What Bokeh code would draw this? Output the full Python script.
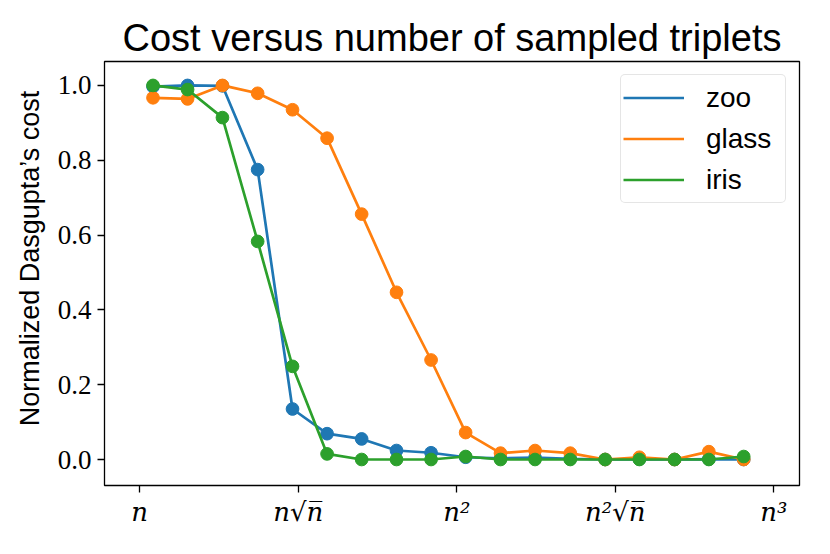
from bokeh.plotting import figure
from bokeh.models import Range1d, FixedTicker, Legend, LegendItem, NumeralTickFormatter
from bokeh.embed import file_html
from bokeh.resources import INLINE

# x positions in units of log_n(#triplets)
x_vals = [1.042, 1.151, 1.261, 1.372, 1.482, 1.591, 1.700, 1.810, 1.919,
          2.028, 2.138, 2.247, 2.358, 2.468, 2.576, 2.687, 2.795, 2.905]

zoo = [0.997, 1.0, 0.999, 0.775, 0.135, 0.069, 0.055, 0.024, 0.018,
       0.006, 0.003, 0.005, 0.002, 0.0, 0.001, 0.0, 0.001, 0.0]
glass = [0.967, 0.964, 1.0, 0.979, 0.935, 0.859, 0.656, 0.447, 0.266,
         0.072, 0.017, 0.024, 0.017, 0.0, 0.006, 0.0, 0.021, 0.0]
iris = [1.0, 0.989, 0.914, 0.583, 0.249, 0.015, 0.0, 0.0, 0.0,
        0.008, 0.0, 0.0, 0.0, 0.0, 0.0, 0.0, 0.0, 0.008]

series_names = ["zoo", "glass", "iris"]
series_values = [zoo, glass, iris]
series_colors = ["#1f77b4", "#ff7f0e", "#2ca02c"]

x_tick_values = [1, 1.5, 2, 2.5, 3]
x_tick_labels = ["n", "n√n\u0305", "n²", "n²√n\u0305", "n³"]
y_tick_values = [0.0, 0.2, 0.4, 0.6, 0.8, 1.0]

p = figure(width=814, height=538, output_backend="svg", toolbar_location=None,
           x_range=Range1d(0.889, 3.081), y_range=Range1d(-0.0695, 1.064),
           min_border_left=104, min_border_right=15, min_border_top=61, min_border_bottom=53,
           title="Cost versus number of sampled triplets")

p.background_fill_color = "white"
p.border_fill_color = "white"
p.outline_line_color = "black"
p.outline_line_width = 1.3
p.xgrid.visible = False
p.ygrid.visible = False

p.title.align = "center"
p.title.text_font = "Liberation Sans"
p.title.text_font_size = "38px"
p.title.text_font_style = "normal"
p.title.text_color = "black"
p.title.standoff = 5

for ax in (p.xaxis, p.yaxis):
    ax.axis_line_color = None
    ax.major_tick_in = 0
    ax.major_tick_out = 7
    ax.major_tick_line_width = 1.3
    ax.major_tick_line_color = "black"
    ax.minor_tick_line_color = None
    ax.major_label_text_color = "black"

p.xaxis.ticker = FixedTicker(ticks=x_tick_values)
p.xaxis.major_label_overrides = {v: s for v, s in zip(x_tick_values, x_tick_labels)}
p.xaxis.major_label_text_font = "DejaVu Serif"
p.xaxis.major_label_text_font_size = "26px"
p.xaxis.major_label_text_font_style = "italic"
p.xaxis.major_label_standoff = 4

p.yaxis.ticker = FixedTicker(ticks=y_tick_values)
p.yaxis.formatter = NumeralTickFormatter(format="0.0")
p.yaxis.major_label_text_font = "Liberation Serif"
p.yaxis.major_label_text_font_size = "27px"
p.yaxis.major_label_standoff = 6
p.yaxis.axis_label = "\u00a0\u00a0\u00a0\u00a0Normalized Dasgupta’s cost"
p.yaxis.axis_label_text_font = "Liberation Sans"
p.yaxis.axis_label_text_font_size = "27px"
p.yaxis.axis_label_text_font_style = "normal"
p.yaxis.axis_label_text_color = "black"
p.yaxis.axis_label_standoff = 10

items = []
for name, vals, col in zip(series_names, series_values, series_colors):
    r = p.line(x_vals, vals, line_color=col, line_width=2.7)
    p.scatter(x_vals, vals, size=12.7, fill_color=col, line_color=col)
    items.append(LegendItem(label=name, renderers=[r]))

legend = Legend(items=items, location="top_right")
legend.label_text_font = "Liberation Sans"
legend.label_text_font_size = "28px"
legend.label_text_color = "black"
legend.glyph_width = 61
legend.glyph_height = 41
legend.label_height = 41
legend.label_width = 77
legend.label_standoff = 22
legend.spacing = 0
legend.padding = 2
legend.margin = 13
legend.border_line_color = "#cccccc"
legend.border_line_width = 1
legend.border_radius = 5
legend.background_fill_alpha = 0.8
p.add_layout(legend)

open("out.html", "w").write(file_html(p, INLINE))
